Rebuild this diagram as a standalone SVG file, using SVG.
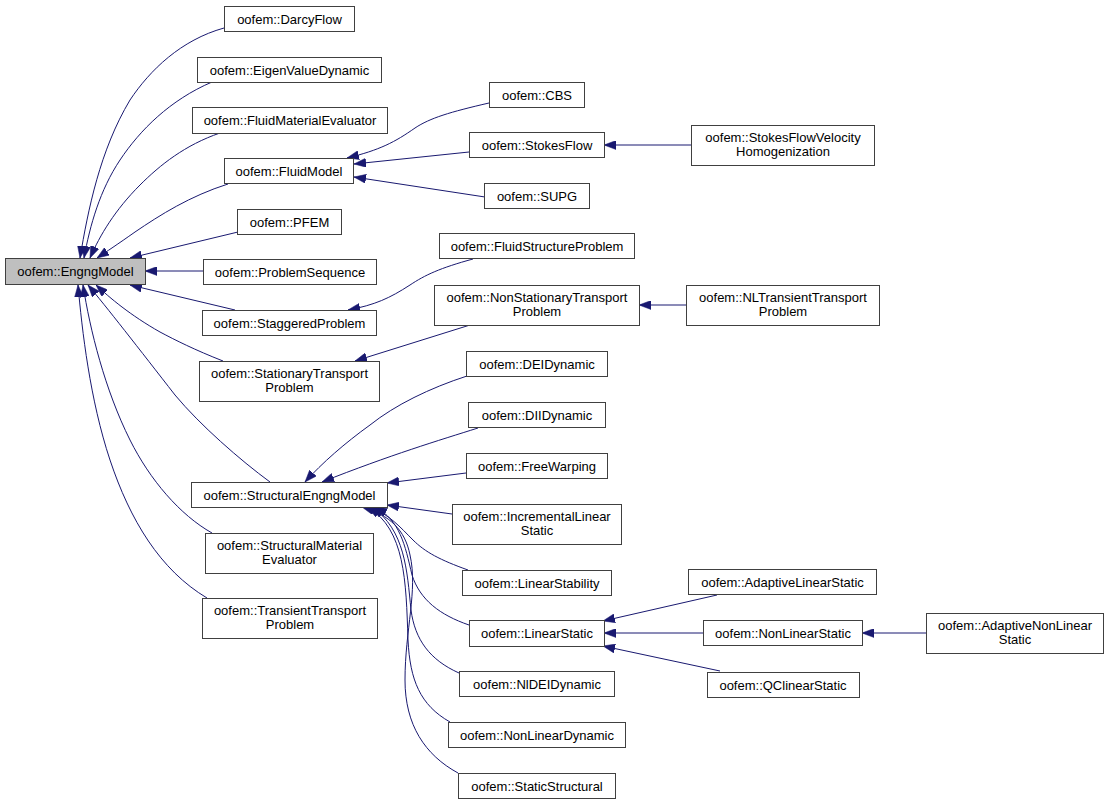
<svg xmlns="http://www.w3.org/2000/svg" width="1108" height="804" viewBox="0 0 1108 804">
<style>
.n rect{fill:#ffffff;stroke:#404040;stroke-width:1}
.n.base rect{fill:#bfbfbf}
.n text{font-family:"Liberation Sans",Arial,sans-serif;font-size:13px;fill:#000;text-anchor:middle}
.e path{fill:none;stroke:#191970;stroke-width:1;marker-end:url(#ah)}
</style>
<defs>
<marker id="ah" viewBox="0 0 12 9" markerWidth="12" markerHeight="9" refX="12" refY="4.5" orient="auto" markerUnits="userSpaceOnUse">
<path d="M0,0 L12,4.5 L0,9 z" fill="#191970" stroke="#191970" stroke-width="0.5"/>
</marker>
</defs>
<rect width="1108" height="804" fill="#ffffff"/>
<g id="edges" class="e">
<path d="M224,28 C181,40 150,70 130,100 C100,150 88,210 80,258"/>
<path d="M212,82 C170,100 140,130 120,160 C100,190 90,225 84,258"/>
<path d="M220,133 C185,145 160,165 140,185 C115,210 100,235 90,258"/>
<path d="M228,184 C190,196 160,215 135,232 C118,244 106,252 97,258"/>
<path d="M238,232 L130,258"/>
<path d="M203,271 L145,271"/>
<path d="M235,310 L130,285"/>
<path d="M223,361 C195,350 175,340 160,332 C130,315 110,298 96,285"/>
<path d="M270,482 C240,460 200,425 175,395 C140,350 105,305 88,285"/>
<path d="M212,533 C180,515 150,480 130,440 C105,390 90,330 83,285"/>
<path d="M207,598 C160,570 130,520 110,460 C90,400 82,330 78,285"/>
<path d="M489,103 C450,112 430,118 415,128 C395,142 380,150 347,158"/>
<path d="M469,152 L354,164"/>
<path d="M485,197 L354,177"/>
<path d="M691,145 L604,145"/>
<path d="M473,259 C440,268 425,275 410,285 C390,298 375,305 348,310"/>
<path d="M470,325 L355,361"/>
<path d="M686,305 L639,305"/>
<path d="M467,376 C430,388 395,405 370,425 C345,443 322,463 305,482"/>
<path d="M478,428 C440,440 390,455 322,482"/>
<path d="M466,473 L387,483"/>
<path d="M452,514 L387,505"/>
<path d="M468,570 C440,560 425,552 413,540 C400,527 390,515 370,507"/>
<path d="M469,625 C440,615 420,600 412,575 C405,545 400,520 375,507"/>
<path d="M459,673 C430,660 415,640 411,610 C407,570 405,530 372,507"/>
<path d="M450,722 C420,705 410,680 408,640 C406,580 405,530 368,507"/>
<path d="M458,773 C425,755 405,725 405,680 C405,630 418,590 410,555 C405,530 390,515 362,507"/>
<path d="M717,595 L603,621"/>
<path d="M703,633 L604,633"/>
<path d="M720,671 L603,646"/>
<path d="M926,633 L862,633"/>
</g>
<g id="EngngModel" class="n base"><rect x="5.5" y="258.5" width="140" height="26"/><text x="75.5" y="276">oofem::EngngModel</text></g>
<g id="DarcyFlow" class="n"><rect x="224.5" y="6.5" width="130" height="25"/><text x="289.5" y="23.5">oofem::DarcyFlow</text></g>
<g id="EigenValueDynamic" class="n"><rect x="197.5" y="57.5" width="184" height="25"/><text x="289.5" y="74.5">oofem::EigenValueDynamic</text></g>
<g id="FluidMaterialEvaluator" class="n"><rect x="192.5" y="107.5" width="195" height="26"/><text x="290" y="125">oofem::FluidMaterialEvaluator</text></g>
<g id="FluidModel" class="n"><rect x="224.5" y="158.5" width="129" height="25"/><text x="289" y="175.5">oofem::FluidModel</text></g>
<g id="PFEM" class="n"><rect x="237.5" y="209.5" width="104" height="25"/><text x="289.5" y="226.5">oofem::PFEM</text></g>
<g id="ProblemSequence" class="n"><rect x="203.5" y="259.5" width="173" height="25"/><text x="290" y="276.5">oofem::ProblemSequence</text></g>
<g id="StaggeredProblem" class="n"><rect x="202.5" y="310.5" width="174" height="25"/><text x="289.5" y="327.5">oofem::StaggeredProblem</text></g>
<g id="StationaryTransportProblem" class="n"><rect x="199.5" y="361.5" width="180" height="40"/><text x="289.5" y="377.5">oofem::StationaryTransport</text><text x="289.5" y="392">Problem</text></g>
<g id="StructuralEngngModel" class="n"><rect x="191.5" y="482.5" width="196" height="25"/><text x="289.5" y="499.5">oofem::StructuralEngngModel</text></g>
<g id="StructuralMaterialEvaluator" class="n"><rect x="205.5" y="533.5" width="168" height="40"/><text x="289.5" y="549.5">oofem::StructuralMaterial</text><text x="289.5" y="564">Evaluator</text></g>
<g id="TransientTransportProblem" class="n"><rect x="202.5" y="598.5" width="175" height="40"/><text x="290" y="614.5">oofem::TransientTransport</text><text x="290" y="629">Problem</text></g>
<g id="CBS" class="n"><rect x="489.5" y="82.5" width="95" height="25"/><text x="537" y="99.5">oofem::CBS</text></g>
<g id="StokesFlow" class="n"><rect x="469.5" y="132.5" width="135" height="25"/><text x="537" y="149.5">oofem::StokesFlow</text></g>
<g id="SUPG" class="n"><rect x="484.5" y="183.5" width="105" height="25"/><text x="537" y="200.5">oofem::SUPG</text></g>
<g id="FluidStructureProblem" class="n"><rect x="439.5" y="233.5" width="195" height="25"/><text x="537" y="250.5">oofem::FluidStructureProblem</text></g>
<g id="NonStationaryTransportProblem" class="n"><rect x="434.5" y="285.5" width="205" height="40"/><text x="537" y="301.5">oofem::NonStationaryTransport</text><text x="537" y="316">Problem</text></g>
<g id="StokesFlowVelocityHomogenization" class="n"><rect x="691.5" y="125.5" width="183" height="40"/><text x="783" y="141.5">oofem::StokesFlowVelocity</text><text x="783" y="156">Homogenization</text></g>
<g id="NLTransientTransportProblem" class="n"><rect x="686.5" y="285.5" width="193" height="40"/><text x="783" y="301.5">oofem::NLTransientTransport</text><text x="783" y="316">Problem</text></g>
<g id="DEIDynamic" class="n"><rect x="466.5" y="351.5" width="141" height="25"/><text x="537" y="368.5">oofem::DEIDynamic</text></g>
<g id="DIIDynamic" class="n"><rect x="468.5" y="402.5" width="137" height="25"/><text x="537" y="419.5">oofem::DIIDynamic</text></g>
<g id="FreeWarping" class="n"><rect x="466.5" y="453.5" width="141" height="25"/><text x="537" y="470.5">oofem::FreeWarping</text></g>
<g id="IncrementalLinearStatic" class="n"><rect x="452.5" y="504.5" width="169" height="40"/><text x="537" y="520.5">oofem::IncrementalLinear</text><text x="537" y="535">Static</text></g>
<g id="LinearStability" class="n"><rect x="462.5" y="570.5" width="149" height="25"/><text x="537" y="587.5">oofem::LinearStability</text></g>
<g id="LinearStatic" class="n"><rect x="469.5" y="620.5" width="135" height="26"/><text x="537" y="638">oofem::LinearStatic</text></g>
<g id="NlDEIDynamic" class="n"><rect x="459.5" y="671.5" width="155" height="25"/><text x="537" y="688.5">oofem::NlDEIDynamic</text></g>
<g id="NonLinearDynamic" class="n"><rect x="448.5" y="722.5" width="177" height="25"/><text x="537" y="739.5">oofem::NonLinearDynamic</text></g>
<g id="StaticStructural" class="n"><rect x="458.5" y="773.5" width="157" height="25"/><text x="537" y="790.5">oofem::StaticStructural</text></g>
<g id="AdaptiveLinearStatic" class="n"><rect x="688.5" y="569.5" width="188" height="25"/><text x="782.5" y="586.5">oofem::AdaptiveLinearStatic</text></g>
<g id="NonLinearStatic" class="n"><rect x="703.5" y="620.5" width="159" height="25"/><text x="783" y="637.5">oofem::NonLinearStatic</text></g>
<g id="QClinearStatic" class="n"><rect x="707.5" y="672.5" width="152" height="25"/><text x="783" y="689.5">oofem::QClinearStatic</text></g>
<g id="AdaptiveNonLinearStatic" class="n"><rect x="926.5" y="613.5" width="177" height="40"/><text x="1015" y="629.5">oofem::AdaptiveNonLinear</text><text x="1015" y="644">Static</text></g>
</svg>
